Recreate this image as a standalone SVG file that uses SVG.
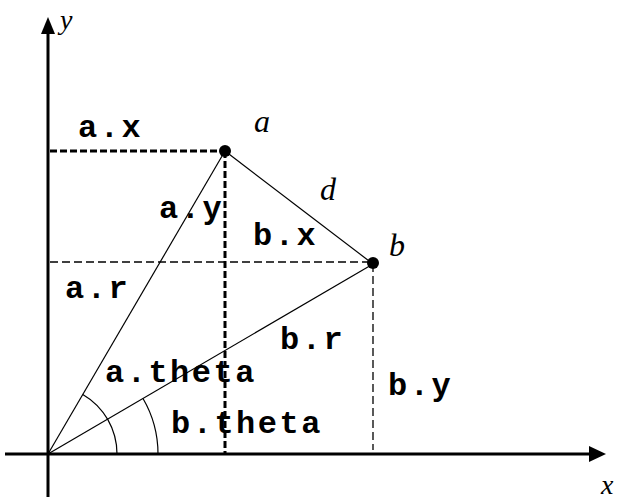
<svg xmlns="http://www.w3.org/2000/svg" width="619" height="501" viewBox="0 0 619 501">
<style>
.lbl{font-family:"Liberation Mono","Courier New",monospace;font-weight:bold;font-size:32px;letter-spacing:2.5px;fill:#000}
.it{font-family:"Liberation Serif","Times New Roman",serif;font-style:italic;font-size:32px;fill:#000}
.thin{stroke:#000;stroke-width:1.2;fill:none}
.dthick{stroke:#000;stroke-width:3;stroke-dasharray:7 3;fill:none}
.dthin{stroke:#000;stroke-width:1.3;stroke-dasharray:8 4;fill:none}
.axis{stroke:#000;stroke-width:3;fill:none}
</style>
<rect width="619" height="501" fill="#fff"/>
<g id="axes">
<line class="axis" x1="48" y1="497" x2="48" y2="30"/>
<polygon points="48,17 41,34 55,34" fill="#000"/>
<line class="axis" x1="5" y1="454" x2="592" y2="454"/>
<polygon points="606,454 589,446 589,462" fill="#000"/>
<text class="it" x="60" y="29" style="font-size:28px">y</text>
<text class="it" x="601" y="494" style="font-size:28px">x</text>
</g>
<g id="connectors">
<line class="dthick" x1="50" y1="151" x2="225" y2="151"/>
<line class="dthick" x1="225" y1="151" x2="225" y2="454"/>
<line class="dthin" x1="50" y1="262" x2="373" y2="262"/>
<line class="dthin" x1="373" y1="264" x2="373" y2="450"/>
<line class="thin" x1="48" y1="454" x2="225" y2="151"/>
<line class="thin" x1="48" y1="454" x2="373" y2="264"/>
<line class="thin" x1="225" y1="151" x2="373" y2="264"/>
<path class="thin" d="M82.8,394.4 A69,69 0 0 1 117,454"/>
<path class="thin" d="M143,398.5 A110,110 0 0 1 158,454"/>
</g>
<g id="node-a">
<circle cx="225" cy="151" r="6" fill="#000"/>
<text class="it" x="254" y="132">a</text>
</g>
<g id="node-b">
<circle cx="373" cy="263" r="6" fill="#000"/>
<text class="it" x="389" y="256">b</text>
</g>
<g id="labels">
<text class="it" x="320" y="200">d</text>
<text class="lbl" x="78" y="137">a.x</text>
<text class="lbl" x="159" y="218">a.y</text>
<text class="lbl" x="253" y="245">b.x</text>
<text class="lbl" x="65" y="298">a.r</text>
<text class="lbl" x="280" y="349">b.r</text>
<text class="lbl" x="105" y="382">a.theta</text>
<text class="lbl" x="388" y="395">b.y</text>
<text class="lbl" x="171" y="433">b.theta</text>
</g>
</svg>
